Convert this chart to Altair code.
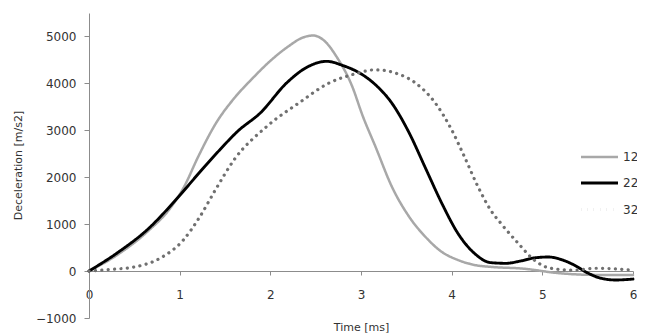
import altair as alt
import pandas as pd

# ---- data ----
series_names = ["12", "22", "32"]

t12 = [0, 0.3, 0.65, 0.9, 1.05, 1.2, 1.4, 1.6, 1.8, 2.0, 2.2, 2.35, 2.47, 2.6, 2.73,
       2.9, 3.02, 3.16, 3.34, 3.53, 3.71, 3.89, 4.07, 4.25, 4.43, 4.8, 5.16, 5.53, 6.0]
v12 = [0, 330, 850, 1350, 1800, 2420, 3150, 3680, 4100, 4480, 4790, 4970, 5020, 4900, 4570,
       3950, 3300, 2650, 1800, 1160, 730, 410, 235, 130, 90, 50, -40, -80, -85]

t22 = [0, 0.31, 0.67, 0.87, 1.0, 1.24, 1.45, 1.64, 1.89, 2.18, 2.4, 2.62, 2.8, 3.02, 3.16,
       3.34, 3.53, 3.71, 3.89, 4.07, 4.25, 4.43, 4.6, 4.75, 4.91, 5.07, 5.2, 5.35, 5.5,
       5.64, 5.81, 6.0]
v22 = [0, 385, 930, 1330, 1610, 2150, 2600, 2980, 3370, 4010, 4340, 4470, 4380, 4180, 3970,
       3580, 2950, 2200, 1450, 800, 380, 180, 165, 210, 280, 300, 250, 130, -40,
       -150, -190, -170]

t32 = [0, 0.13, 0.49, 0.79, 1.04, 1.22, 1.4, 1.6, 1.96, 2.32, 2.65, 2.91, 3.16, 3.38, 3.6,
       3.82, 4.0, 4.14, 4.29, 4.43, 4.55, 4.73, 4.91, 5.09, 5.34, 5.6, 6.0]
v32 = [0, 20, 85, 280, 660, 1150, 1750, 2370, 3080, 3590, 4010, 4190, 4290, 4220, 4010,
       3580, 3010, 2440, 1800, 1300, 1000, 600, 235, 60, 20, 60, 20]

x_ticks = [0, 1, 2, 3, 4, 5, 6]
y_ticks = [-1000, 0, 1000, 2000, 3000, 4000, 5000]

line_colors = ["#a8a8a8", "#000000", "#707070"]
line_widths = [2.5, 3.2, 3.4]
line_dashes = [[1, 0], [1, 0], [0.1, 6.3]]

rows = []
for name, ts, vs in zip(series_names, [t12, t22, t32], [v12, v22, v32]):
    for t, v in zip(ts, vs):
        rows.append({"time": t, "decel": v, "series": name})
df = pd.DataFrame(rows)

FONT = "DejaVu Sans"

legend_opts = dict(
    title=None, orient="none", legendX=490, legendY=124,
    symbolType="stroke", symbolSize=1369, rowPadding=-12,
    labelFont=FONT, labelFontSize=12, labelColor="#333333", labelOffset=3,
)

lines = alt.Chart(df).mark_line(
    interpolate="monotone", strokeCap="round", strokeJoin="round"
).encode(
    x=alt.X(
        "time:Q",
        scale=alt.Scale(domain=[0, 6], nice=False, zero=False),
        axis=alt.Axis(
            values=x_ticks, format="d", title="Time [ms]", offset=-47, grid=False,
            tickSize=4, labelPadding=14, labelFontSize=12, labelFont=FONT,
            labelColor="#333333", domainColor="#8c8c8c", tickColor="#8c8c8c",
            titleFont=FONT, titleFontSize=11, titleFontWeight="normal",
            titleColor="#333333", titleY=56, titleBaseline="middle",
            labelFlush=False,
        ),
    ),
    y=alt.Y(
        "decel:Q",
        scale=alt.Scale(domain=[-1000, 5500], nice=False, zero=False),
        axis=alt.Axis(
            values=y_ticks, format="d", title="Deceleration [m/s2]", grid=False,
            tickSize=5, labelPadding=8, labelFontSize=12, labelFont=FONT,
            labelColor="#333333", domainColor="#8c8c8c", tickColor="#8c8c8c",
            titleFont=FONT, titleFontSize=11, titleFontWeight="normal",
            titleColor="#333333", titleX=-71, titleY=152, titleBaseline="middle",
            labelFlush=False,
        ),
    ),
    color=alt.Color(
        "series:N",
        scale=alt.Scale(domain=series_names, range=line_colors),
        legend=alt.Legend(**legend_opts),
    ),
    strokeWidth=alt.StrokeWidth(
        "series:N", scale=alt.Scale(domain=series_names, range=line_widths),
        legend=alt.Legend(**legend_opts),
    ),
    strokeDash=alt.StrokeDash(
        "series:N", scale=alt.Scale(domain=series_names, range=line_dashes),
        legend=alt.Legend(**legend_opts),
    ),
    order="time:Q",
)

chart = lines.properties(
    width=544, height=305,
    autosize=alt.AutoSizeParams(type="none"),
    padding={"left": 81, "top": 5, "right": 4, "bottom": 15},
    background="white",
).configure_view(stroke=None)

chart.save("out.html", embed_options={"renderer": "svg", "actions": False})
